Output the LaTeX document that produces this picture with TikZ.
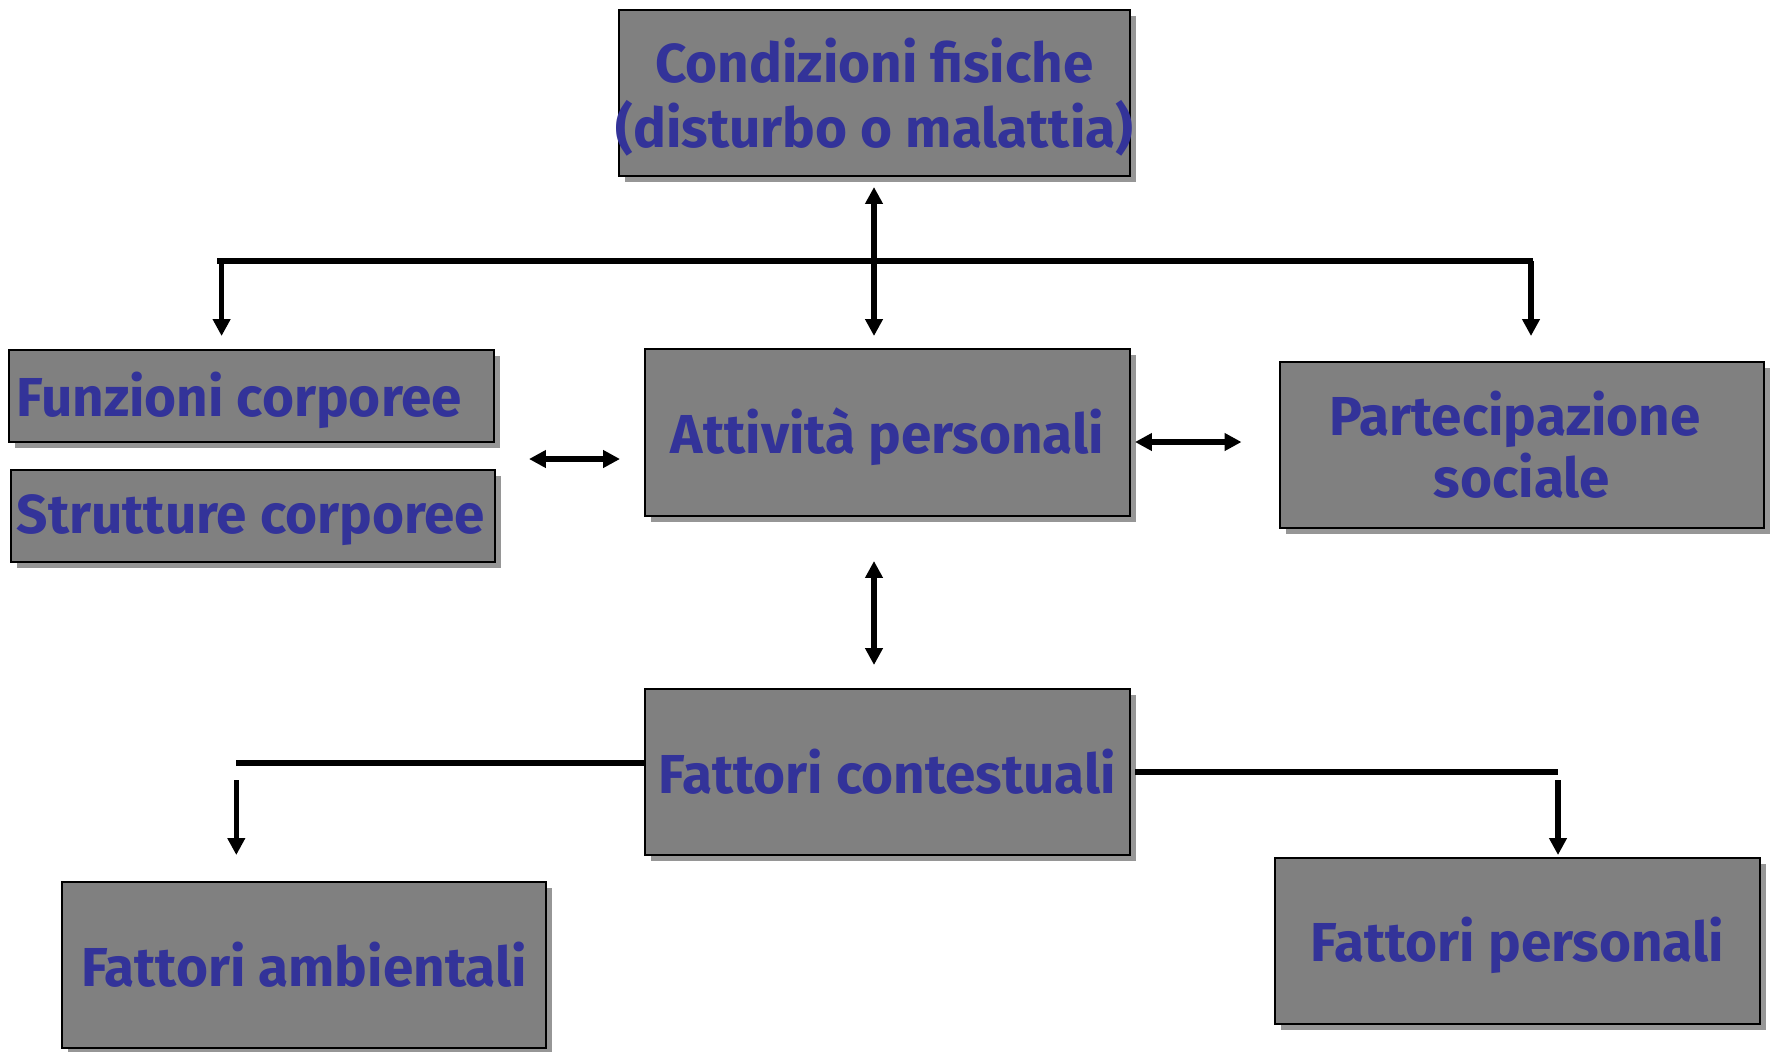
\documentclass[tikz,border=0pt]{standalone}
\usepackage{fontspec}
\setmainfont{Fira Sans}
\usetikzlibrary{arrows.meta,shadows,calc}
\definecolor{boxgray}{RGB}{128,128,128}
\definecolor{shadowgray}{RGB}{150,150,150}
\definecolor{txtblue}{RGB}{51,51,153}
\newcommand{\dn}[2][-1.3pt]{\raisebox{#1}[\height][\depth]{#2}}
\begin{document}
\begin{tikzpicture}[x=0.01cm,y=-0.01cm,
  box/.style={draw=black, line width=0.7pt, fill=boxgray, text=txtblue,
    font=\bfseries\fontsize{15.6}{17.6}\selectfont, align=center, inner sep=0pt,
    drop shadow={shadow xshift=0.06cm, shadow yshift=-0.06cm, fill=shadowgray, opacity=1}},
  link/.style={line width=1.55pt},
  arr/.style={link, -{Triangle[length=4.8pt,width=4.8pt]}},
  dbl/.style={link, {Triangle[length=4.8pt,width=4.8pt]}-{Triangle[length=4.8pt,width=4.8pt]}}
]
\useasboundingbox (0,0) rectangle (1773,1051);

% boxes
\node[box, minimum width=5.11cm, minimum height=1.66cm] (cond) at (874.5,93)
  {\dn[-2.4pt]{\makebox[4.9cm]{\renewcommand{\arraystretch}{0.95}%
   \begin{tabular}{@{}c@{}}Condizioni fisiche\\(disturbo o malattia)\end{tabular}}}};
\node[box, minimum width=4.85cm, minimum height=1.67cm] (att) at (887.5,432.5)
  {\dn{Attività personali}};
\node[box, minimum width=4.85cm, minimum height=0.915cm, inner xsep=0.075cm] (funz) at (251.5,396)
  {\dn{\makebox[4.70cm][l]{Funzioni corporee}}};
\node[box, minimum width=4.84cm, minimum height=0.92cm, inner xsep=0.06cm] (strut) at (253,516)
  {\dn{\makebox[4.72cm][l]{Strutture corporee}}};
\node[box, minimum width=4.84cm, minimum height=1.66cm] (part) at (1522,445)
  {Partecipazione\hspace*{0.14cm}\\sociale};
\node[box, minimum width=4.85cm, minimum height=1.66cm] (ctx) at (887.5,772)
  {Fattori contestuali};
\node[box, minimum width=4.84cm, minimum height=1.66cm] (amb) at (304,965)
  {Fattori ambientali};
\node[box, minimum width=4.85cm, minimum height=1.66cm] (pers) at (1517.5,941)
  {\dn{Fattori personali}};

% connector points
\coordinate (c1) at (874,187);
\coordinate (c2) at (874,336);
\coordinate (hl) at (217,261);
\coordinate (hr) at (1533,261);
\coordinate (dl) at (221.6,336);
\coordinate (dr) at (1531,336);
\coordinate (bl1) at (529,459);
\coordinate (bl2) at (620,459);
\coordinate (br1) at (1135,442);
\coordinate (br2) at (1241.5,442);
\coordinate (m1) at (874,561);
\coordinate (m2) at (874,665);
\coordinate (ll) at (236.3,763);
\coordinate (la) at (236.3,780);
\coordinate (lb) at (236.3,855);
\coordinate (rr0) at (1135,772);
\coordinate (rr) at (1558,772);
\coordinate (ra) at (1558,780);
\coordinate (rb) at (1558,855);

% connectors
\draw[link] (hl) -- (hr);
\draw[dbl] (c1) -- (c2);
\draw[arr] (dl |- hl) -- (dl);
\draw[arr] (dr |- hr) -- (dr);
\draw[dbl] (bl1) -- (bl2);
\draw[dbl] (br1) -- (br2);
\draw[dbl] (m1) -- (m2);
\draw[link] (ll) -- (ctx.west |- ll);
\draw[arr] (la) -- (lb);
\draw[link] (rr0) -- (rr);
\draw[arr] (ra) -- (rb);
\end{tikzpicture}
\end{document}
